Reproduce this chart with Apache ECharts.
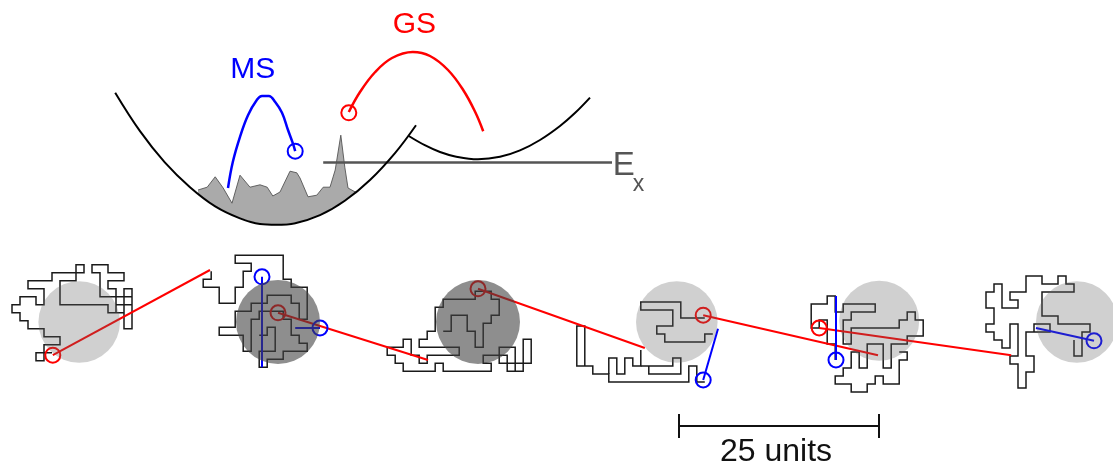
<!DOCTYPE html>
<html><head><meta charset="utf-8">
<script src="https://cdn.jsdelivr.net/npm/echarts@6/dist/echarts.min.js"></script>
<style>html,body{margin:0;padding:0;background:#fff}#c{width:1113px;height:469px}</style>
</head><body><div id="c"></div>
<script>
// all coordinates in lattice units (1 unit = one lattice step)
const leftWell = [[14.4,11.6],[17.5,16.4],[20.6,20.3],[23.75,23.4],[26.9,25.8],[30,27.3],[32.5,28],[34.5,28.1],[36.9,27.9],[40,26.9],[43.1,25.1],[46.25,22.5],[49.4,19.1],[52,15.65]];
const rightWell = [[51.1,17],[53.1,18.15],[55,19],[56.9,19.55],[59.75,19.9],[62.5,19.6],[65,18.8],[67.5,17.5],[70,15.75],[71.9,14.1],[73.75,12.2]];
const exLine = [[40.4,20.3],[76.5,20.3]];
const grayTop = [[24.75,23.75],[25.9,23.4],[26.9,22.1],[27.9,23.5],[29,25.4],[30,21.9],[31.25,23.4],[32.5,23.1],[33.4,23.4],[34.1,24.5],[35,24],[36.25,21.4],[37.1,21.6],[37.5,22.25],[38.5,24.6],[39.6,24.4],[40.4,23.4],[41.25,23.4],[41.9,21.25],[42.6,16.9],[43.1,20.9],[43.5,23.5],[44.6,24.1]];
const grayBottom = [[44.6,23.95],[42.5,25.5],[40,26.9],[37.5,27.75],[34.5,28.1],[31.9,27.85],[29.4,27.05],[26.9,25.75],[24.75,24.25]];
const msCurve = [[28.5,23.5],[29.1,20.25],[30,17.1],[31,14.4],[32.1,12.5],[32.75,12],[33.6,12],[34.4,12.75],[35.25,14.1],[36,16.25],[36.6,17.9],[36.9,18.9]];
const gsCurve = [[43.6,14],[45,11.5],[46.9,9],[49,7.25],[51.6,6.5],[53.75,7],[56,8.75],[57.9,11.25],[59.4,14],[60.4,16.4]];

const walk1 = [[[5,11],[3,11],[3,12],[4,12],[4,10],[6,10],[6,9],[4,9],[4,8],[2,8],[2,7],[1,7],[1,6],[0,6],[0,5],[1,5],[1,4],[3,4],[3,5],[4,5],[4,3],[2,3],[2,2],[5,2],[5,1],[9,1],[9,0],[8,0],[8,2],[6,2],[6,5],[12,5],[12,6],[14,6],[14,8],[15,8],[15,3],[14,3],[14,6],[13,6],[13,3],[12,3],[12,2],[14,2],[14,1],[12,1],[12,0],[10,0],[10,1],[11,1],[11,4],[15,4],[15,5],[13,5],[13,4]]];
const walk2 = [[[1,2],[1,3],[0,3],[0,4],[2,4],[2,6],[4,6],[4,4],[5,4],[5,2],[6,2],[6,1],[4,1],[4,0],[10,0],[10,3],[11,3],[11,4],[13,4],[13,8],[12,8],[12,6],[11,6],[11,5],[8,5],[8,6],[6,6],[6,7],[4,7],[4,9],[2,9],[2,10],[5,10],[5,12],[6,12],[6,8],[7,8],[7,7],[10,7],[10,8],[11,8],[11,10],[12,10],[12,11],[13,11],[13,12],[10,12],[10,13],[8,13],[8,14],[7,14],[7,12],[9,12],[9,9],[8,9],[8,10],[7,10]]];
const walk3 = [[[16,11],[16,8],[14,8],[14,10],[18,10],[18,7],[17,7],[17,11],[15,11],[15,9],[12,9],[12,10],[13,10],[13,11],[7,11],[7,10],[6,10],[6,11],[2,11],[2,10],[1,10],[1,9],[0,9],[0,8],[2,8],[2,7],[3,7],[3,9],[4,9],[4,10],[5,10],[5,9],[9,9],[9,8],[4,8],[4,7],[5,7],[5,6],[6,6],[6,3],[7,3],[7,2],[11,2],[11,1],[13,1],[13,2],[14,2],[14,4],[13,4],[13,5],[12,5],[12,8],[11,8],[11,6],[10,6],[10,4],[8,4],[8,6],[7,6]]];
const walk4 = [
  [[16,2],[13,2],[13,0],[8,0],[8,1],[12,1],[12,3],[10,3],[10,4],[11,4],[11,5],[16,5],[16,4],[17,4]],
  [[16,10],[15,10],[15,8],[14,8],[14,10],[4,10],[4,9],[2,9],[2,8],[1,8],[1,3],[0,3],[0,8],[1,8]],
  [[8,6],[8,8],[7,8],[7,7],[6,7],[6,9],[5,9],[5,7],[4,7],[4,9]],
  [[8,8],[12,8],[12,7],[13,7],[13,9],[9,9],[9,8]]
];
const walk5 = [[[3,8],[3,6],[2,6],[2,3],[1,3],[1,4],[0,4],[0,1],[2,1],[2,0],[3,0],[3,2],[4,2],[4,1],[8,1],[8,2],[5,2],[5,3],[4,3],[4,6],[5,6],[5,4],[11,4],[11,3],[12,3],[12,2],[13,2],[13,3],[14,3],[14,5],[12,5],[12,6],[10,6],[10,9],[9,9],[9,6],[7,6],[7,9],[6,9],[6,7],[5,7],[5,9],[4,9],[4,10],[3,10],[3,11],[5,11],[5,12],[7,12],[7,11],[8,11],[8,10],[9,10],[9,11],[11,11],[11,8],[12,8],[12,7],[11,7]]];
const walk6 = [[[11,8],[11,10],[12,10],[12,7],[13,7],[13,6],[9,6],[9,5],[7,5],[7,2],[11,2],[11,1],[10,1],[10,0],[9,0],[9,1],[7,1],[7,0],[5,0],[5,2],[3,2],[3,3],[4,3],[4,4],[2,4],[2,1],[1,1],[1,2],[0,2],[0,4],[1,4],[1,6],[0,6],[0,7],[1,7],[1,8],[2,8],[2,9],[3,9],[3,6],[4,6],[4,10],[3,10],[3,11],[4,11],[4,14],[5,14],[5,12],[6,12],[6,10],[5,10],[5,7],[6,7],[6,6],[8,6],[8,7],[6,7]]];
const walks = [walk1, walk2, walk3, walk4, walk5, walk6];
const walkOrigins = [[1.5,33.1],[25.4,31.9],[48.4,35.4],[72.1,37.75],[101.4,37],[123.25,34.5]];

// disks: [x, y, radius, dark(1)/light(0)]
const disks = [[9.9,40.25,5.1,0],[34.75,40.25,5.25,1],[59.75,40.25,5.25,1],[84.6,40.25,5.1,0],[109.9,40.1,5.0,0],[134.6,40.25,5.1,0]];
const redLinks = [[[6.6,44.4],[26.25,33.75]],[[34.75,39.1],[53.5,45]],[[59.75,36.1],[80.6,43.5]],[[87.9,39.4],[109.75,44.4]],[[102.4,41],[126.4,44.4]]];
const blueLinks = [[[32.75,34.6],[32.75,45.9]],[[36.9,41],[40,41]],[[89.75,41.1],[87.9,47.5]],[[104.5,37],[104.5,45]],[[129.5,41],[136.75,42.6]]];
const redRings = [[6.6,44.4],[34.75,39.1],[59.75,36.1],[87.9,39.4],[102.4,41],[43.6,14.1]];
const blueRings = [[32.75,34.6],[40,41],[87.9,47.5],[104.5,45],[136.75,42.6],[36.9,18.9]];
const scaleBar = [[[84.8,53.25],[109.8,53.25]],[[84.8,51.75],[84.8,54.75]],[[109.8,51.75],[109.8,54.75]]];
const labels = [
  {name:'MS', value:[31.6,8.7], color:'#0000ff', size:30, align:'center'},
  {name:'GS', value:[51.8,3.05], color:'#ff0000', size:30, align:'center'},
  {name:'E', value:[76.6,20.7], color:'#555555', size:33, align:'left'},
  {name:'x', value:[79.1,23.1], color:'#555555', size:23, align:'left'},
  {name:'25 units', value:[97,56.5], color:'#111111', size:32, align:'center'}
];

const walkLines = [];
walks.forEach((w, k) => {
  const o = walkOrigins[k];
  w.forEach(pl => walkLines.push({coords: pl.map(p => [o[0] + p[0], o[1] + p[1]])}));
});

const chart = echarts.init(document.getElementById('c'), null, {renderer:'canvas'});
const FONT = '"Liberation Sans", Arial, sans-serif';
chart.setOption({
  animation: false,
  backgroundColor: '#ffffff',
  grid: {left:0, right:0, top:0, bottom:0},
  xAxis: {type:'value', min:0, max:139.125, show:false},
  yAxis: {type:'value', min:0, max:58.625, inverse:true, show:false},
  series: [
    {type:'custom', z:1, silent:true, data:[0], renderItem: (params, api) => {
      const pts = grayTop.concat(grayBottom).map(p => api.coord(p));
      return {type:'group', children:[
        {type:'polygon', shape:{points:pts}, style:{fill:'#aaaaaa', stroke:null}},
        {type:'polyline', shape:{points:grayTop.map(p => api.coord(p))}, style:{stroke:'#555555', lineWidth:0.9, fill:null}}
      ]};
    }},
    {type:'line', z:3, data:exLine, showSymbol:false, lineStyle:{color:'#555555', width:2.5}, silent:true},
    {type:'line', z:4, data:leftWell, smooth:0.4, showSymbol:false, lineStyle:{color:'#000000', width:2}, silent:true},
    {type:'line', z:4, data:rightWell, smooth:0.4, showSymbol:false, lineStyle:{color:'#000000', width:2}, silent:true},
    {type:'line', z:4, data:msCurve, smooth:0.4, showSymbol:false, lineStyle:{color:'#0000ff', width:2.5}, silent:true},
    {type:'line', z:4, data:gsCurve, smooth:0.4, showSymbol:false, lineStyle:{color:'#ff0000', width:2.5}, silent:true},
    {type:'lines', coordinateSystem:'cartesian2d', polyline:true, z:2, silent:true, data:walkLines,
      lineStyle:{color:'#1a1a1a', width:1.5, opacity:1}},
    {type:'lines', coordinateSystem:'cartesian2d', z:3, silent:true, data:redLinks.map(c => ({coords:c})),
      lineStyle:{color:'#ff0000', width:2, opacity:1}},
    {type:'lines', coordinateSystem:'cartesian2d', z:3, silent:true, data:blueLinks.map(c => ({coords:c})),
      lineStyle:{color:'#0000ff', width:2, opacity:1}},
    {type:'scatter', z:5, silent:true, data:redRings, symbol:'circle', symbolSize:15,
      itemStyle:{color:'rgba(0,0,0,0)', borderColor:'#ff0000', borderWidth:2, opacity:1}},
    {type:'scatter', z:5, silent:true, data:blueRings, symbol:'circle', symbolSize:15,
      itemStyle:{color:'rgba(0,0,0,0)', borderColor:'#0000ff', borderWidth:2, opacity:1}},
    {type:'custom', z:8, silent:true, data:disks, renderItem: (params, api) => {
      const c = api.coord([api.value(0), api.value(1)]);
      const s = api.size([api.value(2), api.value(2)]);
      const dark = api.value(3) === 1;
      return {type:'circle', shape:{cx:c[0], cy:c[1], r:s[0]},
        style:{fill: dark ? 'rgba(66,66,66,0.6)' : 'rgba(100,100,100,0.3)', stroke:null}};
    }},
    {type:'lines', coordinateSystem:'cartesian2d', z:3, silent:true, data:scaleBar.map(c => ({coords:c})),
      lineStyle:{color:'#111111', width:2, opacity:1}},
    {type:'scatter', z:9, silent:true, symbolSize:0, itemStyle:{opacity:1},
      data: labels.map(l => ({name:l.name, value:l.value,
        label:{show:true, position:'inside', formatter:l.name, color:l.color, fontSize:l.size,
          fontFamily:FONT, align:l.align, verticalAlign:'middle', opacity:1}}))}
  ]
});
</script></body></html>
